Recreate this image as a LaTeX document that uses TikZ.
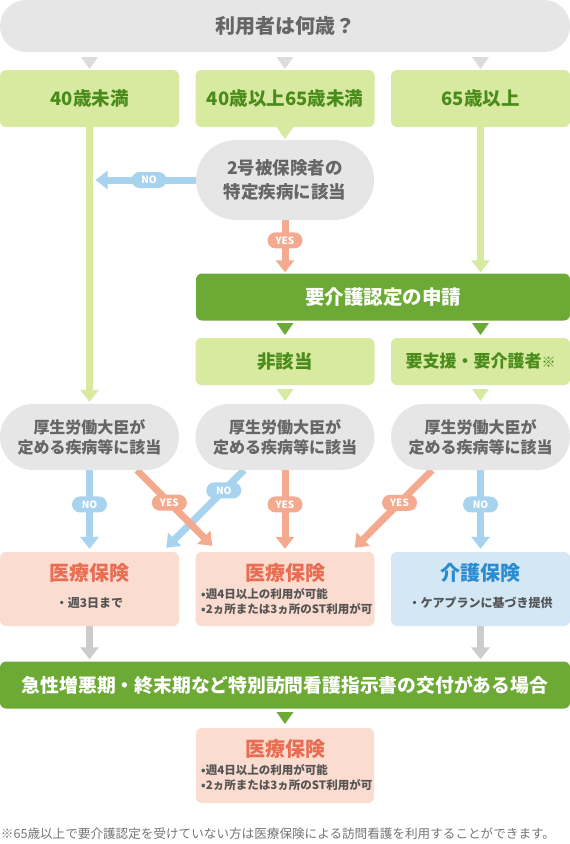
\documentclass[tikz,border=0pt]{standalone}
\usepackage{fontspec}
\setmainfont{Noto Sans CJK JP}
\usetikzlibrary{arrows.meta}

\definecolor{qgray}{HTML}{E6E6E6}
\definecolor{qtext}{HTML}{666666}
\definecolor{trigray}{HTML}{DCDCDC}
\definecolor{lime}{HTML}{D8E9A0}
\definecolor{limetext}{HTML}{4A8C1C}
\definecolor{dgreen}{HTML}{6DAA35}
\definecolor{noblue}{HTML}{A8D3EE}
\definecolor{yessalmon}{HTML}{F4AA8F}
\definecolor{pinkbox}{HTML}{FADCD0}
\definecolor{redtext}{HTML}{E96D52}
\definecolor{bluebox}{HTML}{D3E7F5}
\definecolor{bluetext}{HTML}{2B8BD0}
\definecolor{arrgray}{HTML}{CCCCCC}
\definecolor{bodytext}{HTML}{555555}

\pgfdeclarelayer{bg}
\pgfsetlayers{bg,main}

\newcommand\fs[2]{\fontsize{#1}{#2}\selectfont}
% small pointer triangle, top centre given
\newcommand\downtri[2]{\fill[#1] (#2) ++(-8.5,0) -- ++(17,0) -- ++(-8.5,12) -- cycle;}

\tikzset{
  pill/.style={fill=qgray, text=qtext, align=center, inner sep=0pt,
    minimum width=179pt, minimum height=66pt, rounded corners=33pt,
    font=\bfseries\fs{16}{20}},
  agebox/.style={fill=lime, text=limetext, inner sep=0pt,
    minimum width=179pt, minimum height=57pt, rounded corners=6pt,
    font=\bfseries\fs{18.5}{20}},
  greenbox/.style={fill=dgreen, text=white, inner sep=0pt,
    minimum height=47pt, rounded corners=6pt, font=\bfseries\fs{18.8}{20}},
  resbox/.style={fill=pinkbox, inner sep=0pt, minimum width=179pt,
    minimum height=74pt, rounded corners=6pt},
  restitle/.style={text=redtext, inner sep=0pt, font=\bfseries\fs{20}{20}},
  resnote/.style={text=bodytext, inner sep=0pt, align=left, font=\bfseries\fs{11.5}{15}},
  flow/.style={line width=7pt, -{Triangle[width=18pt,length=12pt]}},
  nolab/.style={fill=noblue, text=white, font=\bfseries\fs{10}{10},
    inner sep=0pt, minimum width=35pt, minimum height=16pt, rounded corners=8pt},
  yeslab/.style={nolab, fill=yessalmon},
}

\begin{document}
\begin{tikzpicture}[x=1pt,y=-1pt]
\useasboundingbox (0,0) rectangle (570,844);

\node [pill, minimum width=570pt, minimum height=52pt, rounded corners=26pt,
  font=\bfseries\fs{20}{20}] (age) at (285,26) {利用者は何歳？};

\node [agebox] (under40) at (89.5,98.5) {40歳未満};
\node [agebox] (mid) at (285,98.5) {40歳以上65歳未満};
\node [agebox] (over65) at (480.5,98.5) {65歳以上};

\downtri{trigray}{89.5,57}
\downtri{trigray}{285,57}
\downtri{trigray}{480.5,57}
\downtri{lime}{285,127}

\node [pill, minimum width=178pt, minimum height=80pt, rounded corners=40pt,
  font=\bfseries\fs{17.5}{24}] (tokutei) at (285,180) {2号被保険者の\\特定疾病に該当};

\node [greenbox, minimum width=374pt, font=\bfseries\fs{19.5}{20}] (shinsei) at (383,297) {要介護認定の申請};
\downtri{dgreen}{285,323}
\downtri{dgreen}{480.5,323}

\node [agebox, minimum height=47pt] (higaitou) at (285,361.5) {非該当};
\node [agebox, minimum height=47pt, font=\bfseries\fs{17}{20}] (yokaigo) at (480.5,361.5)
  {要支援・要介護者{\mdseries\fs{14}{20}※}};
\downtri{lime}{285,389}
\downtri{lime}{480.5,389}

\node [pill] (kousei1) at (89.5,437) {厚生労働大臣が\\定める疾病等に該当};
\node [pill] (kousei2) at (285,437) {厚生労働大臣が\\定める疾病等に該当};
\node [pill] (kousei3) at (480.5,437) {厚生労働大臣が\\定める疾病等に該当};

% results
\node [resbox] (iryo1) at (89.5,589) {};
\node [resbox] (iryo2) at (285,589) {};
\node [resbox, fill=bluebox] (kaigo) at (480.5,589) {};
\node [restitle] (iryo1t) at (89.5,573) {医療保険};
\node [restitle] (iryo2t) at (285,573) {医療保険};
\node [restitle, text=bluetext] (kaigot) at (480.5,573) {介護保険};
\node [resnote, font=\bfseries\fs{12}{15}] (iryo1n) at (89.5,603) {・週3日まで};
\node [resnote, anchor=west] (iryo2n) at (201,602) {•週4日以上の利用が可能\\•2ヵ所または3ヵ所のST利用が可};
\node [resnote, font=\bfseries\fs{12}{15}] (kaigon) at (480.5,603) {・ケアプランに基づき提供};

\node [greenbox, minimum width=570pt] (toku) at (285,685) {急性増悪期・終末期など特別訪問看護指示書の交付がある場合};
\downtri{dgreen}{285,712}

\node [resbox, minimum width=178pt, minimum height=75pt] (iryo3) at (285,765.5) {};
\node [restitle] (iryo3t) at (285,749) {医療保険};
\node [resnote, anchor=west] (iryo3n) at (201,778) {•週4日以上の利用が可能\\•2ヵ所または3ヵ所のST利用が可};

\node [text=qtext!90, inner sep=0pt, font=\fs{12.6}{14}] (note) at (278,834)
  {※65歳以上で要介護認定を受けていない方は医療保険による訪問看護を利用することができます。};

\begin{pgfonlayer}{bg}
\draw [flow, draw=lime, shorten >=2pt] (under40.south) -- (under40.south |- kousei1.north);
\draw [flow, draw=lime, shorten >=1pt] (over65.south) -- (over65.south |- shinsei.north);
\draw [flow, draw=noblue, shorten >=6pt] (tokutei.west) -- (tokutei.west -| under40.south)
  node [nolab, pos=0.44] (no0) {NO};
\draw [flow, draw=yessalmon, shorten >=1pt] (tokutei.south) -- (tokutei.south |- shinsei.north)
  node [yeslab, pos=0.38] (yes0) {YES};

\draw [flow, draw=noblue, shorten >=3pt] (kousei1.south) -- (kousei1.south |- iryo1.north)
  node [nolab, pos=0.42] (no1) {NO};
\draw [flow, draw=noblue] ([xshift=-41pt]kousei2.south) -- ([xshift=-13pt,yshift=4pt]iryo1.north east)
  node [nolab, pos=0.26] (no2) {NO};
\draw [flow, draw=yessalmon] ([xshift=47.5pt]kousei1.south) -- ([xshift=17pt,yshift=6pt]iryo2.north west)
  node [yeslab, pos=0.43] (yes1) {YES};
\draw [flow, draw=yessalmon, shorten >=3pt] (kousei2.south) -- (kousei2.south |- iryo2.north)
  node [yeslab, pos=0.42] (yes2) {YES};
\draw [flow, draw=yessalmon] ([xshift=-48.5pt]kousei3.south) -- ([xshift=-20pt,yshift=4pt]iryo2.north east)
  node [yeslab, pos=0.42] (yes3) {YES};
\draw [flow, draw=noblue, shorten >=3pt] (kousei3.south) -- (kousei3.south |- kaigo.north)
  node [nolab, pos=0.42] (no3) {NO};

\draw [flow, draw=arrgray, shorten >=2pt] (iryo1.south) -- (iryo1.south |- toku.north);
\draw [flow, draw=arrgray, shorten >=2pt] (kaigo.south) -- (kaigo.south |- toku.north);
\end{pgfonlayer}
\end{tikzpicture}
\end{document}
